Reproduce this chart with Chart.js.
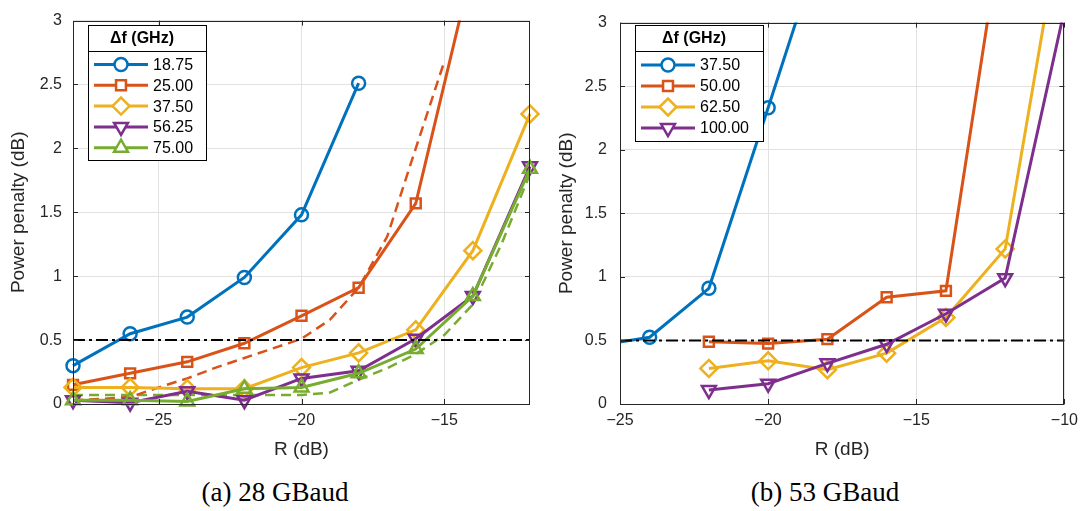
<!DOCTYPE html>
<html><head><meta charset="utf-8">
<script src="https://cdn.jsdelivr.net/npm/chart.js@4.4.1/dist/chart.umd.min.js"></script>
<style>
html,body{margin:0;padding:0;background:#fff;}
#wrap{position:relative;width:1085px;height:511px;overflow:hidden;background:#fff;}
canvas{position:absolute;top:0;}
.cap{position:absolute;top:472px;width:300px;line-height:40px;text-align:center;font-family:"Liberation Serif","DejaVu Serif",serif;font-size:27px;color:#000;white-space:nowrap;}
</style></head>
<body><div id="wrap">
<canvas id="cA" width="545" height="462" style="left:0px"></canvas>
<canvas id="cB" width="540" height="462" style="left:545px"></canvas>
<div class="cap" style="left:125px">(a) 28 GBaud</div>
<div class="cap" style="left:675px">(b) 53 GBaud</div>
</div>
<script>
// ---------- data: (a) 28 GBaud ----------
const rA = [-28, -26, -24, -22, -20, -18, -16, -14, -12];
const ppA_1875 = [0.30, 0.55, 0.68, 0.99, 1.48, 2.51];
const ppA_2500 = [0.15, 0.24, 0.33, 0.475, 0.69, 0.91, 1.57, 3.44];
const ppA_3750 = [0.13, 0.13, 0.12, 0.12, 0.285, 0.40, 0.58, 1.20, 2.27];
const ppA_5625 = [0.03, 0.01, 0.10, 0.03, 0.20, 0.26, 0.51, 0.845, 1.86];
const ppA_7500 = [0.03, 0.03, 0.02, 0.12, 0.13, 0.24, 0.43, 0.845, 1.84];
const rA_fine = [-28, -27, -26, -25, -24, -23, -22, -21, -20, -19, -18, -17, -16, -15, -14, -13, -12];
const ppA_2500_dash = [0.03, 0.04, 0.055, 0.13, 0.20, 0.285, 0.36, 0.435, 0.51, 0.66, 0.91, 1.31, 2.0, 2.68];
const ppA_7500_dash = [0.07, 0.07, 0.07, 0.07, 0.07, 0.07, 0.07, 0.07, 0.07, 0.09, 0.19, 0.28, 0.39, 0.54, 0.78, 1.25, 1.80];
const labelsA = ['18.75', '25.00', '37.50', '56.25', '75.00'];
const xTicksA = [-25, -20, -15];
const rangeA = [-28, -12];

// ---------- data: (b) 53 GBaud ----------
const rB = [-26, -24, -22, -20, -18, -16, -14, -12, -10];
const ppB_3750 = [0.45, 0.525, 0.91, 2.33, 3.77];
const rB2 = [-22, -20, -18, -16, -14, -12, -10];
const ppB_5000 = [0.49, 0.475, 0.51, 0.84, 0.89, 3.91];
const ppB_6250 = [0.28, 0.34, 0.27, 0.40, 0.68, 1.22, 3.94];
const ppB_10000 = [0.11, 0.16, 0.32, 0.47, 0.71, 0.99, 3.10];
const labelsB = ['37.50', '50.00', '62.50', '100.00'];
const xTicksB = [-25, -20, -15, -10];
const rangeB = [-25, -10];

const threshold = 0.5;
const yRange = [0, 3];
const yStep = 0.5;
const legendTitle = '\u0394f (GHz)';

// ---------- styles ----------
const C = {blue:'#0072BD', orange:'#D95319', yellow:'#EDB120', purple:'#7E2F8E', green:'#77AC30'};
const FONT = '"Liberation Sans", Arial, Helvetica, sans-serif';
const AX = '#262626';

function pts(xs, ys){ return ys.map((y,i)=>({x:xs[i], y:y})); }

function solid(label, xs, ys, color, style, radius, rot, order, extraClip){
  return {
    label, data: pts(xs, ys), borderColor: color, backgroundColor: 'rgba(0,0,0,0)',
    borderWidth: 3, tension: 0, pointStyle: style, pointRadius: radius, pointHoverRadius: radius,
    pointRotation: rot || 0, pointBorderWidth: 2.5, pointBorderColor: color,
    pointBackgroundColor: 'rgba(255,255,255,0)', order: order,
    clip: extraClip || {left: 14, right: 14, top: 0, bottom: 14}, inLegend: true
  };
}
function dashed(xs, ys, color, order){
  return {
    label: '', data: pts(xs, ys), borderColor: color, borderWidth: 2.5, borderDash: [10, 6],
    tension: 0, pointRadius: 0, order: order, clip: {left: 0, right: 0, top: 0, bottom: 3}, inLegend: false
  };
}
function hline(range, order){
  return {
    label: '', data: pts(range, [threshold, threshold]), borderColor: '#000', borderWidth: 2,
    borderDash: [12, 4, 3, 4], tension: 0, pointRadius: 0, order: order, clip: 0, inLegend: false
  };
}
function fmt(v){ return v < 0 ? '\u2212' + Math.abs(v) : String(v); }

const framePlugin = {
  id: 'frameLegend',
  afterDatasetsDraw(chart, args, o){
    const {ctx, chartArea: a, scales: {x, y}} = chart;
    ctx.save();
    ctx.strokeStyle = AX; ctx.lineWidth = 1;
    ctx.beginPath();
    ctx.rect(Math.round(a.left) + 0.5, Math.round(a.top) + 0.5, Math.round(a.right - a.left) - 1, Math.round(a.bottom - a.top));
    ctx.stroke();
    const tl = 5;
    ctx.beginPath();
    x.ticks.forEach(t => {
      const px = Math.round(x.getPixelForValue(t.value)) + 0.5;
      ctx.moveTo(px, a.bottom); ctx.lineTo(px, a.bottom - tl);
      ctx.moveTo(px, a.top); ctx.lineTo(px, a.top + tl);
    });
    y.ticks.forEach(t => {
      const py = Math.round(y.getPixelForValue(t.value)) + 0.5;
      ctx.moveTo(a.left, py); ctx.lineTo(a.left + tl, py);
      ctx.moveTo(a.right, py); ctx.lineTo(a.right - tl, py);
    });
    ctx.stroke();
    // legend box
    const L = o;
    ctx.fillStyle = '#fff';
    ctx.fillRect(L.x, L.y, L.w, L.h);
    ctx.strokeStyle = '#000'; ctx.lineWidth = 1;
    ctx.strokeRect(L.x + 0.5, L.y + 0.5, L.w, L.h);
    ctx.beginPath(); ctx.moveTo(L.x, L.y + L.titleH + 0.5); ctx.lineTo(L.x + L.w, L.y + L.titleH + 0.5); ctx.stroke();
    ctx.fillStyle = '#000';
    ctx.font = 'bold 16px ' + FONT;
    ctx.textAlign = 'center'; ctx.textBaseline = 'middle';
    ctx.fillText(legendTitle, L.x + L.w / 2 - 5, L.y + 13.5);
    ctx.font = '16px ' + FONT;
    ctx.textAlign = 'left';
    let row = 0;
    chart.data.datasets.forEach(ds => {
      if (!ds.inLegend) return;
      const cy = L.y + L.first + row * L.gap;
      ctx.strokeStyle = ds.borderColor; ctx.lineWidth = 3; ctx.setLineDash([]);
      ctx.beginPath(); ctx.moveTo(L.x + 6, cy); ctx.lineTo(L.x + 60, cy); ctx.stroke();
      ctx.fillStyle = '#fff';
      ctx.strokeStyle = ds.borderColor; ctx.lineWidth = ds.pointBorderWidth;
      Chart.helpers.drawPoint(ctx, {
        pointStyle: ds.pointStyle, radius: ds.pointRadius, rotation: ds.pointRotation,
        borderWidth: ds.pointBorderWidth
      }, L.x + 33, cy);
      ctx.fillStyle = '#000';
      ctx.fillText(ds.label, L.x + 65, cy + 1);
      row++;
    });
    ctx.restore();
  }
};

function scalesCfg(range, xticks, yw, ytitlePad, ytickPad){
  return {
    x: {
      type: 'linear', min: range[0], max: range[1],
      afterBuildTicks: s => { s.ticks = xticks.map(v => ({value: v})); },
      afterFit: s => { s.height = 58; },
      grid: {color: '#e2e2e2', lineWidth: 1, drawTicks: false, tickLength: 0},
      border: {display: false},
      ticks: {color: AX, font: {family: FONT, size: 16}, padding: 7, maxRotation: 0, autoSkip: false, callback: v => fmt(v)},
      title: {display: true, text: 'R (dB)', color: AX, font: {family: FONT, size: 19}, padding: {top: 0, bottom: 1}}
    },
    y: {
      type: 'linear', min: yRange[0], max: yRange[1],
      afterFit: s => { s.width = yw; },
      grid: {color: '#e2e2e2', lineWidth: 1, drawTicks: false, tickLength: 0},
      border: {display: false},
      ticks: {stepSize: yStep, color: AX, font: {family: FONT, size: 16}, padding: ytickPad, callback: v => String(v)},
      title: {display: true, text: 'Power penalty (dB)', color: AX, font: {family: FONT, size: 19}, padding: {top: ytitlePad, bottom: 0}}
    }
  };
}

function baseOptions(range, xticks, yw, ytp, ytk, padRight, legend){
  return {
    responsive: false, animation: false, devicePixelRatio: 1,
    layout: {padding: {left: 0, right: padRight, top: 11, bottom: 0}},
    plugins: {legend: {display: false}, tooltip: {enabled: false}, frameLegend: legend},
    scales: scalesCfg(range, xticks, yw, ytp, ytk),
    elements: {line: {borderCapStyle: 'butt', borderJoinStyle: 'miter'}}
  };
}

new Chart(document.getElementById('cA'), {
  type: 'line',
  data: {datasets: [
    hline(rangeA, 0),
    solid(labelsA[0], rA, ppA_1875, C.blue, 'circle', 6.5, 0, 5),
    solid(labelsA[1], rA, ppA_2500, C.orange, 'rect', 7, 0, 4),
    solid(labelsA[2], rA, ppA_3750, C.yellow, 'rectRot', 8.5, 0, 3),
    solid(labelsA[3], rA, ppA_5625, C.purple, 'triangle', 8, 180, 2),
    solid(labelsA[4], rA, ppA_7500, C.green, 'triangle', 8, 0, 1),
    dashed(rA_fine, ppA_2500_dash, C.orange, 6),
    dashed(rA_fine, ppA_7500_dash, C.green, 6)
  ]},
  options: baseOptions(rangeA, xTicksA, 73, 7, 11, 15, {x: 88, y: 25, w: 118, h: 135, titleH: 26, first: 39.5, gap: 20.8})
, plugins: [framePlugin]});

new Chart(document.getElementById('cB'), {
  type: 'line',
  data: {datasets: [
    hline(rangeB, 0),
    solid(labelsB[0], rB, ppB_3750, C.blue, 'circle', 6.5, 0, 4, {left: 0, right: 14, top: 0, bottom: 14}),
    solid(labelsB[1], rB2, ppB_5000, C.orange, 'rect', 7, 0, 3),
    solid(labelsB[2], rB2, ppB_6250, C.yellow, 'rectRot', 8.5, 0, 2),
    solid(labelsB[3], rB2, ppB_10000, C.purple, 'triangle', 8, 180, 1)
  ]},
  options: baseOptions(rangeB, xTicksB, 75, 10, 13, 14, {x: 90, y: 25, w: 128, h: 116, titleH: 26, first: 40, gap: 21})
, plugins: [framePlugin]});
</script>
</body></html>
